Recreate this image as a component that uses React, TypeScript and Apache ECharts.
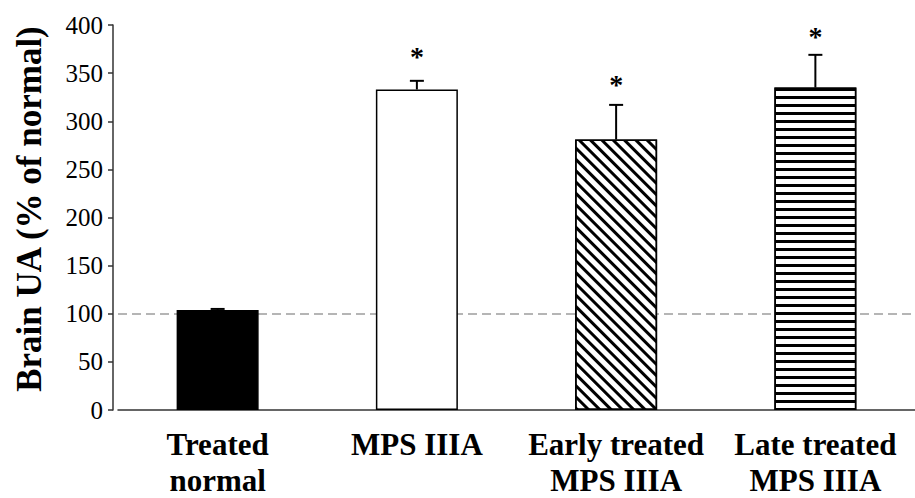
import React, { useEffect, useRef } from "react";
import * as echarts from "echarts";

const categories = ["Treated\nnormal", "MPS IIIA", "Early treated\nMPS IIIA", "Late treated\nMPS IIIA"];
const means = [104, 333, 281, 335];
const errors = [1, 9, 36, 34];
const starLevels: (number | null)[] = [null, 372, 343, 393];
const yTicks = { min: 0, max: 400, interval: 50 };
const referenceLevel = 100;

const SERIF = "'Liberation Serif', 'Times New Roman', serif";

export default function App() {
  const ref = useRef<HTMLDivElement>(null);
  useEffect(() => {
    if (!ref.current) return;
    const chart = echarts.init(ref.current, undefined, { renderer: "svg" });
    const barData = means.map((v, i) => {
      const base: any = {
        value: v,
        itemStyle: { color: "#fff", borderColor: "#000", borderWidth: 1.5 },
      };
      if (i === 0) base.itemStyle.color = "#000";
      if (i === 2)
        base.itemStyle.decal = {
          symbol: "rect",
          symbolSize: 1,
          dashArrayX: [1, 0],
          dashArrayY: [2.4, 4.6],
          rotation: Math.PI / 4,
          color: "#000",
          backgroundColor: "#fff",
        };
      if (i === 3)
        base.itemStyle.decal = {
          symbol: "rect",
          symbolSize: 1,
          dashArrayX: [1, 0],
          dashArrayY: [2.2, 4.1],
          rotation: 0,
          color: "#000",
          backgroundColor: "#fff",
        };
      return base;
    });
    const errData = means.map((v, i) => [i, v, errors[i], starLevels[i] ?? -1]);
    chart.setOption({
      animation: false,
      grid: { left: 118, right: -3, top: 25, bottom: 87, containLabel: false },
      xAxis: {
        type: "category",
        data: categories,
        axisLine: { lineStyle: { color: "#333", width: 1.5 } },
        axisTick: { length: 7, lineStyle: { color: "#333", width: 1.5 } },
        axisLabel: {
          fontFamily: SERIF,
          fontWeight: "bold",
          fontSize: 31,
          lineHeight: 36,
          color: "#000",
          margin: 16,
          interval: 0,
        },
      },
      yAxis: {
        type: "value",
        min: yTicks.min,
        max: yTicks.max,
        interval: yTicks.interval,
        offset: 5,
        axisLine: { show: true, lineStyle: { color: "#333", width: 1.5 } },
        axisTick: { show: true, length: 5, lineStyle: { color: "#333", width: 1.5 } },
        splitLine: { show: false },
        axisLabel: { fontFamily: SERIF, fontSize: 25, color: "#000", margin: 10 },
      },
      graphic: [
        {
          type: "text",
          x: 29,
          y: 209,
          rotation: Math.PI / 2,
          style: {
            text: "Brain UA (% of normal)",
            fontFamily: SERIF,
            fontWeight: "bold",
            fontSize: 35,
            fill: "#000",
            align: "center",
            verticalAlign: "middle",
          },
        },
      ],
      series: [
        {
          type: "bar",
          data: barData,
          barWidth: 82,
          z: 2,
          markLine: {
            silent: true,
            symbol: "none",
            z: 1,
            label: { show: false },
            lineStyle: { color: "#b5b5b5", type: [9, 5], width: 2 },
            data: [{ yAxis: referenceLevel }],
          },
        },
        {
          type: "custom",
          z: 3,
          data: errData,
          renderItem: (params: any, api: any) => {
            const i = api.value(0);
            const v = api.value(1);
            const e = api.value(2);
            const s = api.value(3);
            const p0 = api.coord([i, v]);
            const p1 = api.coord([i, v + e]);
            const half = 7;
            const children: any[] = [
              { type: "line", shape: { x1: p0[0], y1: p0[1], x2: p1[0], y2: p1[1] }, style: { stroke: "#000", lineWidth: 2 } },
              { type: "line", shape: { x1: p1[0] - half, y1: p1[1], x2: p1[0] + half, y2: p1[1] }, style: { stroke: "#000", lineWidth: 2 } },
            ];
            if (s > 0) {
              const ps = api.coord([i, s]);
              children.push({
                type: "text",
                x: ps[0],
                y: ps[1] + 5,
                style: {
                  text: "*",
                  fontFamily: SERIF,
                  fontWeight: "bold",
                  fontSize: 28,
                  fill: "#000",
                  align: "center",
                  verticalAlign: "middle",
                },
              });
            }
            return { type: "group", children };
          },
        },
      ],
    });
    return () => chart.dispose();
  }, []);
  return <div ref={ref} style={{ width: 915, height: 498, position: "absolute", left: 0, top: 0 }} />;
}
